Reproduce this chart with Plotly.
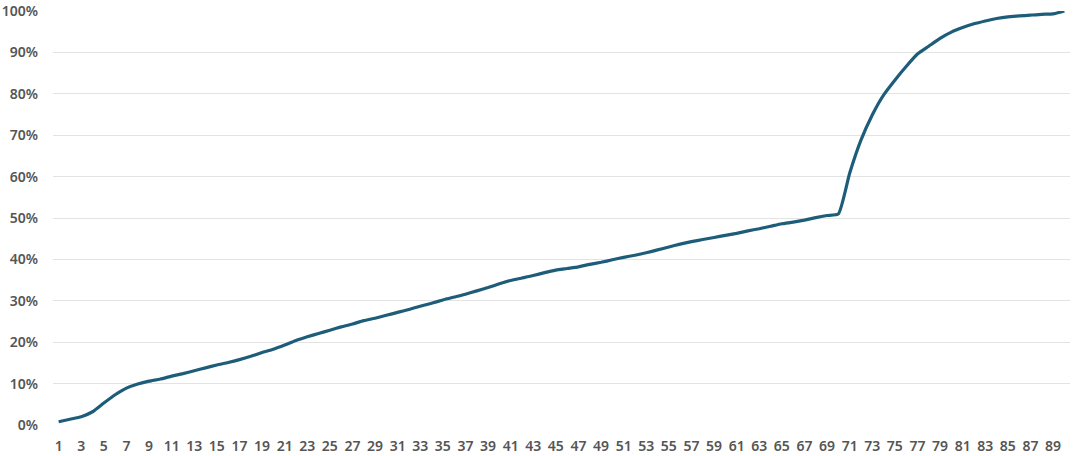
import plotly.graph_objects as go

levels = list(range(1, 91))
cumulative_pct = [
    0.8, 1.4, 2.0, 3.2, 5.3, 7.3, 8.9, 9.9, 10.6, 11.1,
    11.8, 12.4, 13.1, 13.8, 14.5, 15.1, 15.8, 16.6, 17.5, 18.3,
    19.3, 20.4, 21.3, 22.1, 22.9, 23.7, 24.4, 25.2, 25.8, 26.5,
    27.2, 27.9, 28.7, 29.4, 30.2, 30.9, 31.6, 32.4, 33.2, 34.1,
    34.9, 35.5, 36.1, 36.8, 37.4, 37.8, 38.2, 38.8, 39.3, 39.9,
    40.5, 41.0, 41.6, 42.3, 43.0, 43.7, 44.3, 44.8, 45.3, 45.8,
    46.3, 46.9, 47.4, 48.0, 48.6, 49.0, 49.5, 50.1, 50.6, 51.0,
    60.8, 68.8, 74.9, 79.7, 83.3, 86.6, 89.6, 91.5, 93.4, 94.9,
    96.0, 96.9, 97.6, 98.2, 98.6, 98.8, 99.0, 99.2, 99.3, 100.0,
]
y_ticks = [0, 10, 20, 30, 40, 50, 60, 70, 80, 90, 100]
x_ticks = list(range(1, 91, 2))

fig = go.Figure(
    go.Scatter(
        x=levels,
        y=[v / 100 for v in cumulative_pct],
        mode="lines",
        line=dict(color="#1D5D7A", width=3.2, shape="spline", smoothing=0.5),
        cliponaxis=False,
        hoverinfo="skip",
    )
)

fig.update_layout(
    width=1080,
    height=456,
    margin=dict(l=53, r=10, t=11, b=31, autoexpand=False),
    paper_bgcolor="white",
    plot_bgcolor="white",
    showlegend=False,
    font=dict(family="Noto Sans, DejaVu Sans, sans-serif", size=14, color="#555555"),
)
fig.update_xaxes(
    range=[0.5, 90.5],
    tickmode="array",
    tickvals=x_ticks,
    ticktext=[str(t) for t in x_ticks],
    showgrid=False,
    zeroline=False,
    showline=False,
    ticks="",
    automargin=False,
    ticklabelstandoff=11,
    tickfont=dict(size=14, color="#555555", weight=600),
)
fig.update_yaxes(
    range=[0, 1],
    tickmode="array",
    tickvals=[t / 100 for t in y_ticks],
    ticktext=[f"{t}%" for t in y_ticks],
    showgrid=True,
    gridcolor="#E3E3E3",
    gridwidth=1,
    zeroline=False,
    showline=False,
    ticks="",
    automargin=False,
    ticklabelstandoff=14,
    tickfont=dict(size=14, color="#555555", weight=600),
)

fig.write_html(
    "out.html",
    config={"displayModeBar": False},
    post_script="document.body.style.margin='0px';document.body.style.overflow='hidden';",
)
